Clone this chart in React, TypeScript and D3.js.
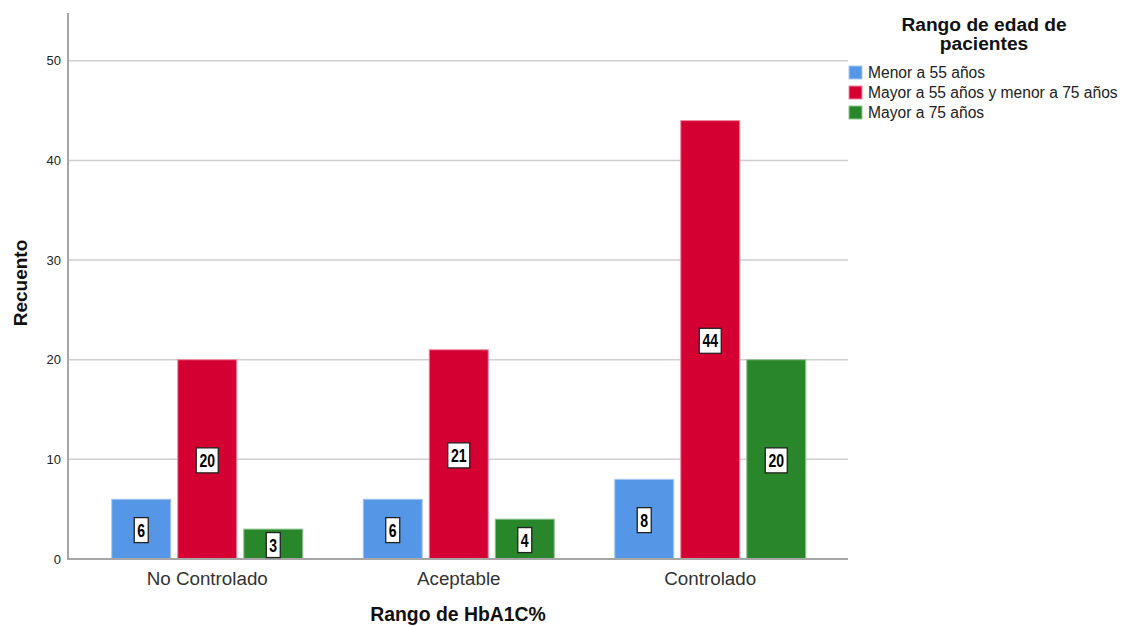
import React from "react";
import * as d3 from "d3";

const categories = ["No Controlado", "Aceptable", "Controlado"];
const seriesNames = [
  "Menor a 55 años",
  "Mayor a 55 años y menor a 75 años",
  "Mayor a 75 años",
];
const menor55 = [6, 6, 8];
const entre55y75 = [20, 21, 44];
const mayor75 = [3, 4, 20];
const yTicks = [0, 10, 20, 30, 40, 50];

const seriesValues = [menor55, entre55y75, mayor75];
const colors = ["#5596e6", "#d50032", "#2a862a"];
const strokes = ["#a9c9f2", "#ec8aa3", "#8fc68f"];

const W = 1121;
const H = 626;
const left = 68;
const right = 848;
const bottom = 559;

export default function App() {
  const y = d3.scaleLinear().domain([0, 54.8]).range([bottom, 13]);
  const x0 = d3.scaleBand<string>().domain(categories).range([81.5, 836]).padding(0);
  const x1 = d3
    .scaleBand<number>()
    .domain([0, 1, 2])
    .range([0, x0.bandwidth()])
    .paddingInner(0.106)
    .paddingOuter(0.458);

  return (
    <svg
      width={W}
      height={H}
      style={{ position: "absolute", left: 0, top: 0, background: "#fff" }}
      fontFamily="'Liberation Sans', Arial, sans-serif"
    >
      {/* gridlines */}
      {yTicks
        .filter((t) => t > 0)
        .map((t) => (
          <line key={t} x1={left} x2={right} y1={y(t)} y2={y(t)} stroke="#cfcfcf" strokeWidth={1.5} />
        ))}
      {/* tick labels */}
      {yTicks.map((t) => (
        <text key={t} x={61} y={y(t)} dy="0.35em" textAnchor="end" fontSize={13} fill="#222">
          {t}
        </text>
      ))}
      {/* bars */}
      {categories.map((c, ci) =>
        seriesValues.map((vals, si) => {
          const bx = (x0(c) ?? 0) + (x1(si) ?? 0);
          const v = vals[ci];
          return (
            <rect
              key={c + si}
              x={bx}
              y={y(v)}
              width={x1.bandwidth()}
              height={bottom - y(v)}
              fill={colors[si]}
              stroke={strokes[si]}
              strokeWidth={1}
            />
          );
        })
      )}
      {/* axes */}
      <line x1={left} x2={left} y1={13} y2={bottom + 1} stroke="#a6a6a6" strokeWidth={2} />
      <line x1={left} x2={right} y1={bottom} y2={bottom} stroke="#a6a6a6" strokeWidth={2} />
      {/* value labels */}
      {categories.map((c, ci) =>
        seriesValues.map((vals, si) => {
          const v = vals[ci];
          const cx = (x0(c) ?? 0) + (x1(si) ?? 0) + x1.bandwidth() / 2;
          const cy = (y(v) + bottom) / 2 + 1;
          const txt = String(v);
          const bw = txt.length > 1 ? 22 : 14;
          const bh = 25;
          return (
            <g key={"l" + c + si}>
              <rect
                x={cx - bw / 2}
                y={cy - bh / 2}
                width={bw}
                height={bh}
                fill="#fff"
                stroke="#222"
                strokeWidth={1.3}
              />
              <text
                transform={`translate(${cx},${cy}) scale(0.78,1)`}
                dy="0.36em"
                textAnchor="middle"
                fontSize={18}
                fontWeight="bold"
                fill="#000"
              >
                {txt}
              </text>
            </g>
          );
        })
      )}
      {/* category labels */}
      {categories.map((c) => (
        <text
          key={c}
          x={(x0(c) ?? 0) + x0.bandwidth() / 2}
          y={578}
          dy="0.35em"
          textAnchor="middle"
          fontSize={18.8}
          fill="#333"
        >
          {c}
        </text>
      ))}
      {/* axis titles */}
      <text x={458} y={621} textAnchor="middle" fontSize={19.4} fontWeight="bold" fill="#111">
        Rango de HbA1C%
      </text>
      <text
        transform="translate(20,283) rotate(-90)"
        dy="0.35em"
        textAnchor="middle"
        fontSize={19}
        fontWeight="bold"
        fill="#111"
      >
        Recuento
      </text>
      {/* legend */}
      <text x={984} y={31} textAnchor="middle" fontSize={19.2} fontWeight="bold" fill="#111">
        Rango de edad de
      </text>
      <text x={984} y={50} textAnchor="middle" fontSize={19.2} fontWeight="bold" fill="#111">
        pacientes
      </text>
      {seriesNames.map((n, i) => (
        <g key={n} transform={`translate(849,${66 + i * 20})`}>
          <rect width={13} height={13} fill={colors[i]} stroke={strokes[i]} strokeWidth={1} />
          <text x={19} y={7} dy="0.35em" fontSize={15.6} fill="#222">
            {n}
          </text>
        </g>
      ))}
    </svg>
  );
}
